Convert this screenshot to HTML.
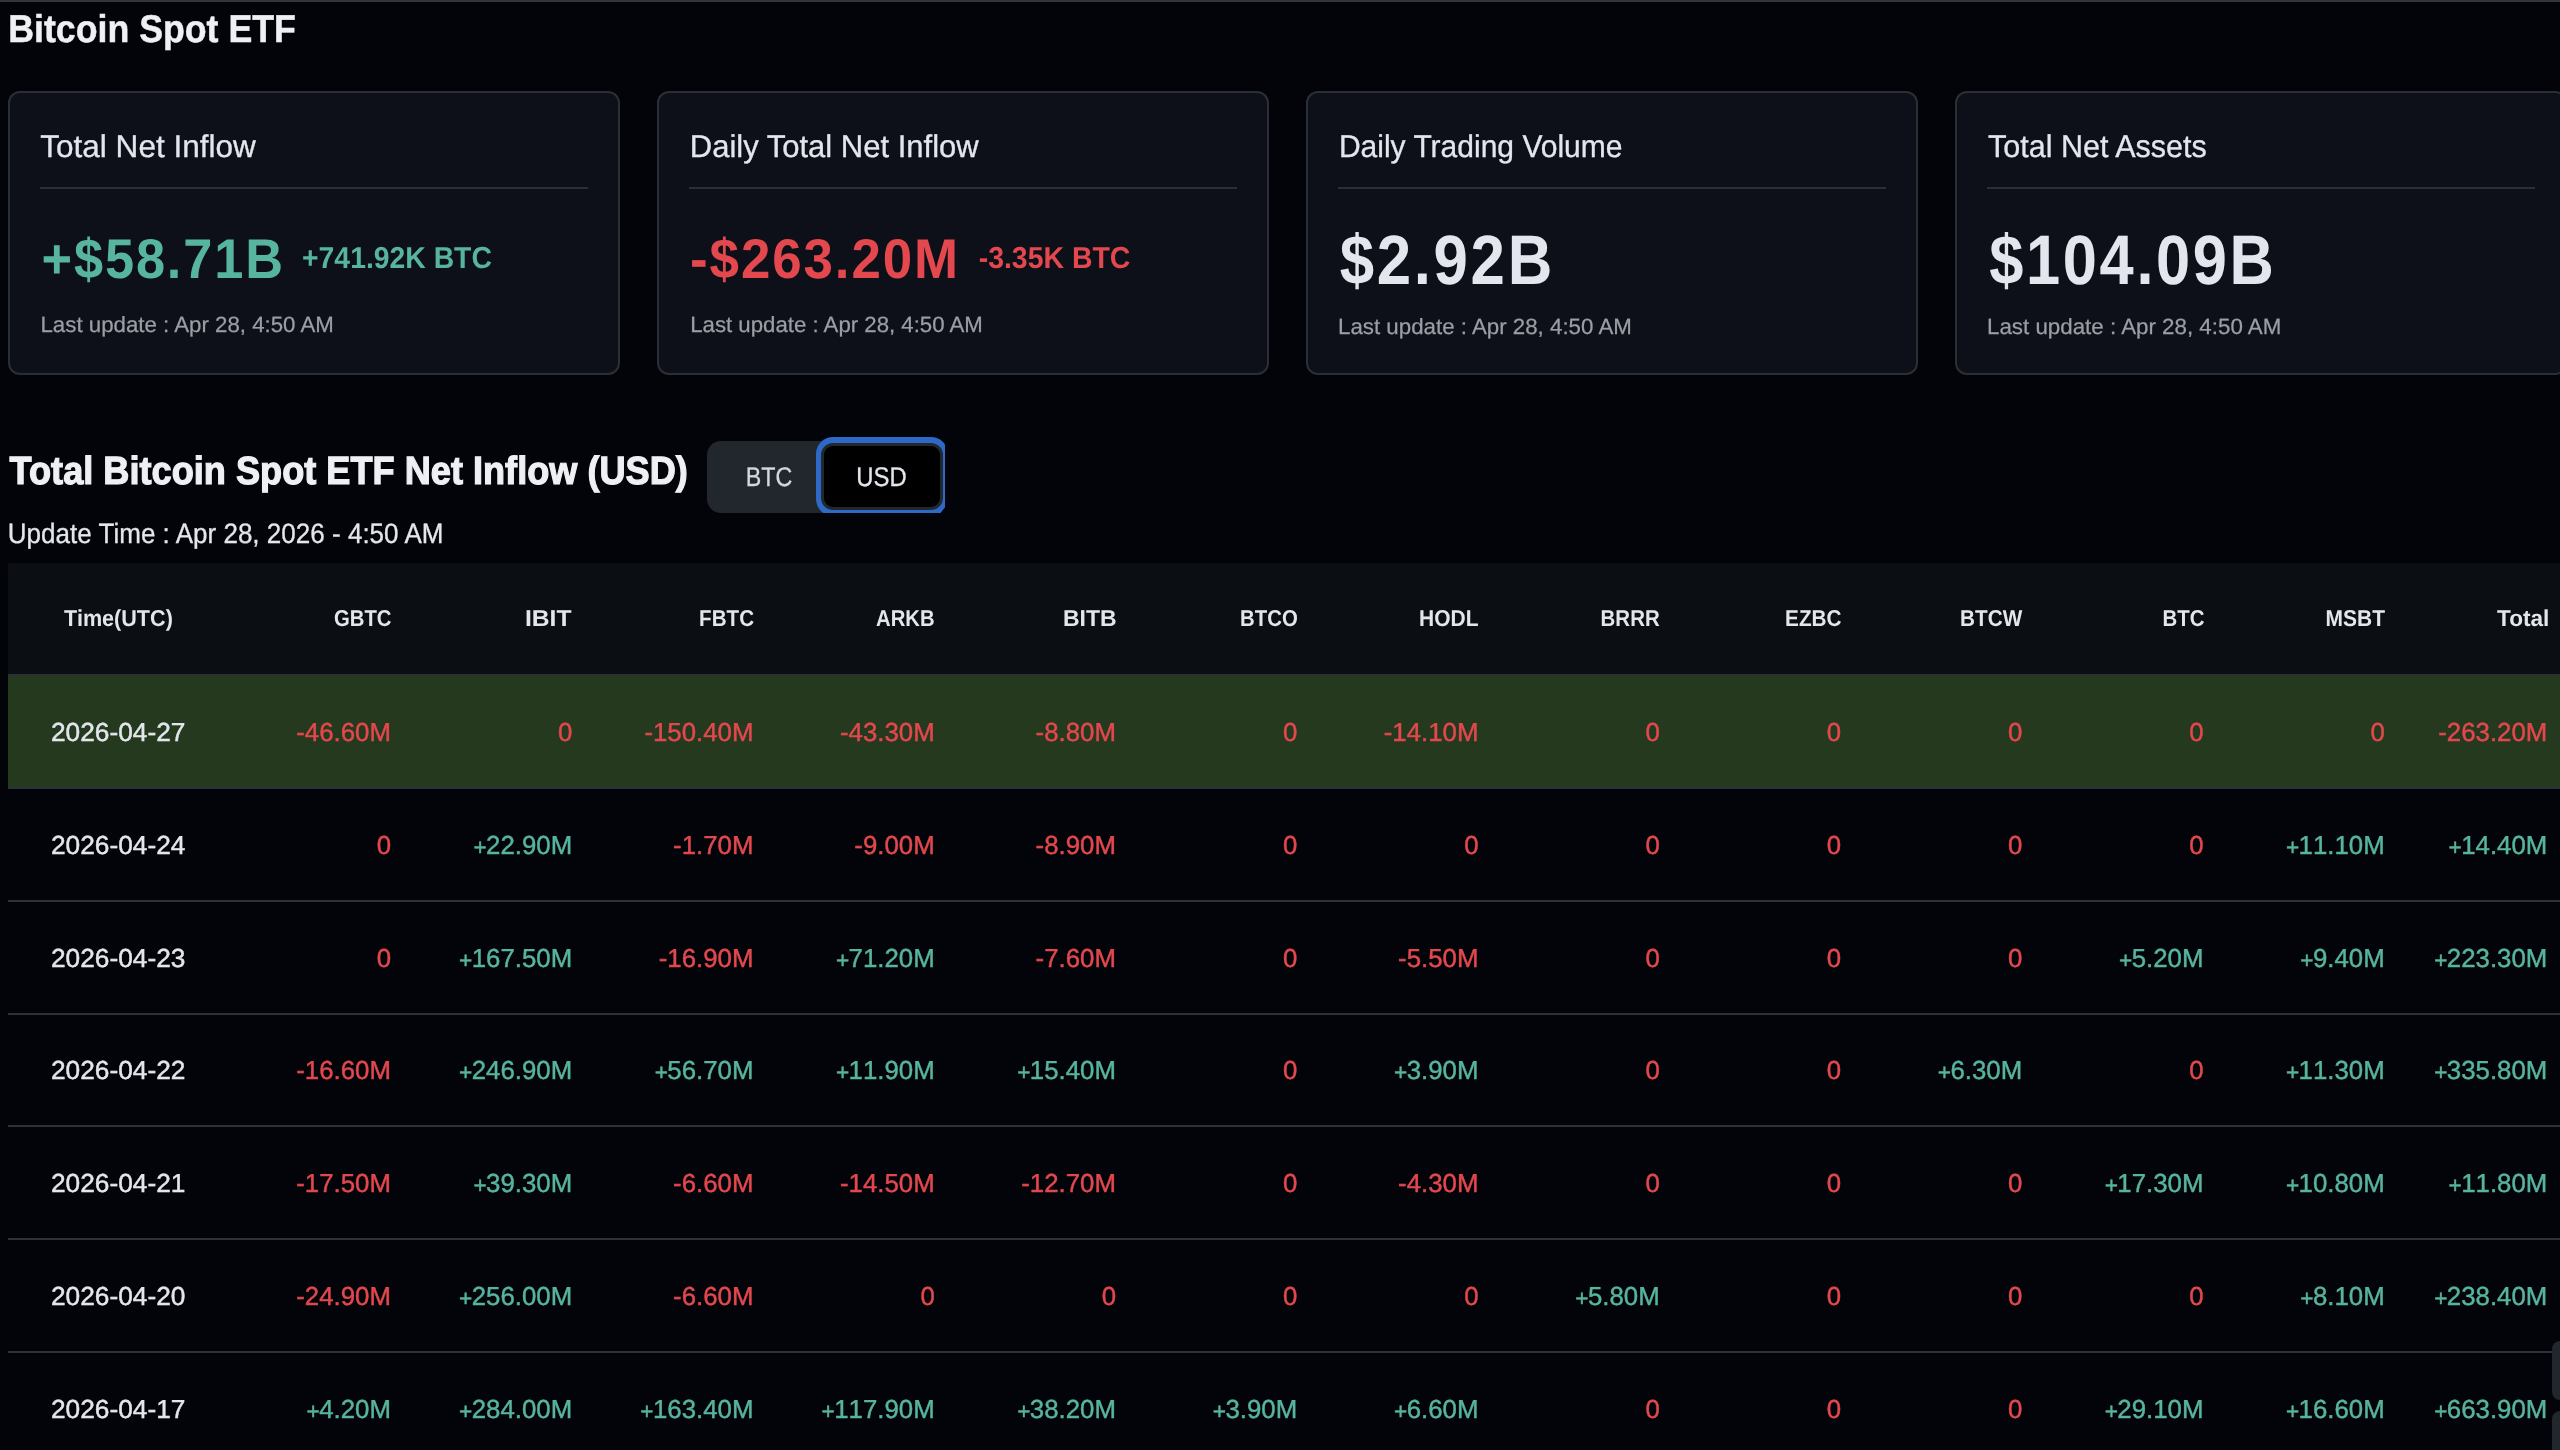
<!DOCTYPE html>
<html lang="en"><head><meta charset="utf-8"><title>Bitcoin Spot ETF</title>
<style>
html,body{margin:0;padding:0;background:#03040a;}
body{width:2560px;height:1450px;position:relative;overflow:hidden;font-family:"Liberation Sans", sans-serif;}
#page{position:absolute;left:0;top:0;width:2560px;height:1450px;overflow:hidden;will-change:transform;}
.b{position:absolute;box-sizing:border-box;}
.card{width:611.6px;height:284.2px;border:2px solid #2a2f36;border-radius:12px;background:#0d1018;}
.t i{font-style:normal;font-size:0.88em;letter-spacing:-0.54px;position:relative;top:1px}
.t{position:absolute;left:0;top:0;white-space:nowrap;line-height:1;transform-origin:0 0;font-family:"Liberation Sans", sans-serif;text-rendering:geometricPrecision;}
.n{font-kerning:none;}
</style></head><body><div id="page">
<div class="b" style="left:0;top:0;width:2560px;height:1.75px;background:#30343b"></div>
<div class="b card" style="left:8.3px;top:90.9px"></div>
<div class="b" style="left:40px;top:187px;width:548px;height:2px;background:#2a2f36"></div>
<div class="b card" style="left:657.3px;top:90.9px"></div>
<div class="b" style="left:689px;top:187px;width:548px;height:2px;background:#2a2f36"></div>
<div class="b card" style="left:1306.3px;top:90.9px"></div>
<div class="b" style="left:1338px;top:187px;width:548px;height:2px;background:#2a2f36"></div>
<div class="b card" style="left:1955.3px;top:90.9px"></div>
<div class="b" style="left:1987px;top:187px;width:548px;height:2px;background:#2a2f36"></div>
<div class="b" style="left:707px;top:441px;width:236px;height:71.9px;border-radius:14px;background:#22262d"></div>
<div class="b" style="left:815px;top:436px;width:130.2px;height:76.9px;overflow:hidden;clip-path:polygon(0 0,100% 0,100% calc(100% - 6px),calc(100% - 4.5px) 100%,0 100%)"><div style="position:absolute;left:0.6px;top:0.9px;width:132.5px;height:78.7px;border-radius:17px;background:#2f69c7"></div><div style="position:absolute;left:6.25px;top:6.9px;width:121.25px;height:66.9px;border-radius:12px;background:#000;border:3px solid #23272e;box-sizing:border-box"></div></div>
<div class="b" style="left:8.3px;top:563px;width:2552px;height:111px;background:#0b0e12"></div>
<div class="b" style="left:8.3px;top:673.75px;width:2552px;height:1.75px;background:#2b3138"></div>
<div class="b" style="left:8.3px;top:675.5px;width:2552px;height:111.5px;background:#24391d"></div>
<div class="b" style="left:8.3px;top:787.0px;width:2552px;height:2px;background:#2d3239"></div>
<div class="b" style="left:8.3px;top:899.75px;width:2552px;height:2px;background:#2d3239"></div>
<div class="b" style="left:8.3px;top:1012.5px;width:2552px;height:2px;background:#2d3239"></div>
<div class="b" style="left:8.3px;top:1125.25px;width:2552px;height:2px;background:#2d3239"></div>
<div class="b" style="left:8.3px;top:1238.0px;width:2552px;height:2px;background:#2d3239"></div>
<div class="b" style="left:8.3px;top:1350.75px;width:2552px;height:2px;background:#2d3239"></div>
<div class="b" style="left:2552px;top:1341px;width:20px;height:59px;border-radius:8px;background:#22262d"></div>
<div class="b" style="left:2552px;top:1411px;width:20px;height:59px;border-radius:8px;background:#22262d"></div>
<span class="t" style="font-size:38.75px;font-weight:700;color:#eef0f4;-webkit-text-stroke:0.5px #eef0f4;transform:translate(8.16px,11.145px) scaleX(0.9219)">Bitcoin Spot ETF</span>
<span class="t" style="font-size:31.5px;font-weight:400;color:#e3e7ed;-webkit-text-stroke:0.3px #e3e7ed;transform:translate(40.30px,131.270px) scaleX(1.0004)">Total Net Inflow</span>
<span class="t" style="font-size:31.5px;font-weight:400;color:#e3e7ed;-webkit-text-stroke:0.3px #e3e7ed;transform:translate(689.73px,131.270px) scaleX(0.9846)">Daily Total Net Inflow</span>
<span class="t" style="font-size:31.5px;font-weight:400;color:#e3e7ed;-webkit-text-stroke:0.3px #e3e7ed;transform:translate(1338.89px,131.270px) scaleX(0.9528)">Daily Trading Volume</span>
<span class="t" style="font-size:31.5px;font-weight:400;color:#e3e7ed;-webkit-text-stroke:0.3px #e3e7ed;transform:translate(1988.00px,131.270px) scaleX(0.9684)">Total Net Assets</span>
<span class="t" style="font-size:56px;font-weight:700;color:#57b49f;letter-spacing:2px;transform:translate(41.53px,230.520px) scaleX(0.9343)">+$58.71B</span>
<span class="t" style="font-size:30.3px;font-weight:700;color:#57b49f;transform:translate(302.06px,244.370px) scaleX(0.9354)">+741.92K BTC</span>
<span class="t" style="font-size:56px;font-weight:700;color:#e2484d;letter-spacing:2px;transform:translate(690.11px,230.520px) scaleX(0.9443)">-$263.20M</span>
<span class="t" style="font-size:30.3px;font-weight:700;color:#e2484d;transform:translate(978.66px,244.370px) scaleX(0.9388)">-3.35K BTC</span>
<span class="t" style="font-size:70px;font-weight:700;color:#e3e7ed;letter-spacing:3px;transform:translate(1339.80px,225.020px) scaleX(0.8825)">$2.92B</span>
<span class="t" style="font-size:70px;font-weight:700;color:#e3e7ed;letter-spacing:3px;transform:translate(1989.30px,225.020px) scaleX(0.8769)">$104.09B</span>
<span class="t" style="font-size:22px;font-weight:400;color:#9b9ea4;-webkit-text-stroke:0.25px #9b9ea4;transform:translate(40.49px,313.520px) scaleX(1.0120)">Last update : Apr 28, 4:50 AM</span>
<span class="t" style="font-size:22px;font-weight:400;color:#9b9ea4;-webkit-text-stroke:0.25px #9b9ea4;transform:translate(690.19px,313.520px) scaleX(1.0096)">Last update : Apr 28, 4:50 AM</span>
<span class="t" style="font-size:22px;font-weight:400;color:#9b9ea4;-webkit-text-stroke:0.25px #9b9ea4;transform:translate(1337.99px,315.520px) scaleX(1.0137)">Last update : Apr 28, 4:50 AM</span>
<span class="t" style="font-size:22px;font-weight:400;color:#9b9ea4;-webkit-text-stroke:0.25px #9b9ea4;transform:translate(1986.98px,315.520px) scaleX(1.0155)">Last update : Apr 28, 4:50 AM</span>
<span class="t" style="font-size:39.3px;font-weight:700;color:#eef0f4;-webkit-text-stroke:1.2px #eef0f4;transform:translate(9.60px,452.370px) scaleX(0.9202)">Total Bitcoin Spot ETF Net Inflow (USD)</span>
<span class="t" style="font-size:28px;font-weight:400;color:#e3e7ed;-webkit-text-stroke:0.3px #e3e7ed;transform:translate(7.74px,519.520px) scaleX(0.9300)">Update Time : Apr 28, 2026 - 4:50 AM</span>
<span class="t" style="font-size:27px;font-weight:400;color:#d5d9df;-webkit-text-stroke:0.3px #d5d9df;transform:translate(745.78px,463.520px) scaleX(0.8621)">BTC</span>
<span class="t" style="font-size:27px;font-weight:400;color:#e3e7ed;-webkit-text-stroke:0.3px #e3e7ed;transform:translate(856.33px,463.520px) scaleX(0.8832)">USD</span>
<span class="t" style="font-size:23px;font-weight:700;color:#e3e7ed;transform:translate(64.10px,606.520px) scaleX(0.9384)">Time(UTC)</span>
<span class="t" style="font-size:23px;font-weight:700;color:#e3e7ed;transform:translate(334.00px,606.520px) scaleX(0.8829)">GBTC</span>
<span class="t" style="font-size:23px;font-weight:700;color:#e3e7ed;transform:translate(524.93px,606.520px) scaleX(1.0730)">IBIT</span>
<span class="t" style="font-size:23px;font-weight:700;color:#e3e7ed;transform:translate(699.10px,606.520px) scaleX(0.8959)">FBTC</span>
<span class="t" style="font-size:23px;font-weight:700;color:#e3e7ed;transform:translate(876.00px,606.520px) scaleX(0.8809)">ARKB</span>
<span class="t" style="font-size:23px;font-weight:700;color:#e3e7ed;transform:translate(1063.00px,606.520px) scaleX(0.9988)">BITB</span>
<span class="t" style="font-size:23px;font-weight:700;color:#e3e7ed;transform:translate(1240.12px,606.520px) scaleX(0.8849)">BTCO</span>
<span class="t" style="font-size:23px;font-weight:700;color:#e3e7ed;transform:translate(1419.09px,606.520px) scaleX(0.9123)">HODL</span>
<span class="t" style="font-size:23px;font-weight:700;color:#e3e7ed;transform:translate(1600.61px,606.520px) scaleX(0.8885)">BRRR</span>
<span class="t" style="font-size:23px;font-weight:700;color:#e3e7ed;transform:translate(1785.10px,606.520px) scaleX(0.9014)">EZBC</span>
<span class="t" style="font-size:23px;font-weight:700;color:#e3e7ed;transform:translate(1960.10px,606.520px) scaleX(0.9008)">BTCW</span>
<span class="t" style="font-size:23px;font-weight:700;color:#e3e7ed;transform:translate(2162.61px,606.520px) scaleX(0.8868)">BTC</span>
<span class="t" style="font-size:23px;font-weight:700;color:#e3e7ed;transform:translate(2325.59px,606.520px) scaleX(0.9123)">MSBT</span>
<span class="t" style="font-size:23px;font-weight:700;color:#e3e7ed;transform:translate(2497.00px,606.520px) scaleX(0.9837)">Total</span>
<span class="t" style="font-size:26px;font-weight:400;color:#e3e7ed;-webkit-text-stroke:0.45px #e3e7ed;transform:translate(50.99px,719.020px) scaleX(1.0111)">2026-04-27</span>
<span class="t" style="font-size:26px;font-weight:400;color:#e3e7ed;-webkit-text-stroke:0.45px #e3e7ed;transform:translate(50.99px,832.020px) scaleX(1.0111)">2026-04-24</span>
<span class="t" style="font-size:26px;font-weight:400;color:#e3e7ed;-webkit-text-stroke:0.45px #e3e7ed;transform:translate(50.99px,945.020px) scaleX(1.0111)">2026-04-23</span>
<span class="t" style="font-size:26px;font-weight:400;color:#e3e7ed;-webkit-text-stroke:0.45px #e3e7ed;transform:translate(50.99px,1057.020px) scaleX(1.0111)">2026-04-22</span>
<span class="t" style="font-size:26px;font-weight:400;color:#e3e7ed;-webkit-text-stroke:0.45px #e3e7ed;transform:translate(50.99px,1170.020px) scaleX(1.0111)">2026-04-21</span>
<span class="t" style="font-size:26px;font-weight:400;color:#e3e7ed;-webkit-text-stroke:0.45px #e3e7ed;transform:translate(50.99px,1283.020px) scaleX(1.0111)">2026-04-20</span>
<span class="t" style="font-size:26px;font-weight:400;color:#e3e7ed;-webkit-text-stroke:0.45px #e3e7ed;transform:translate(50.99px,1396.020px) scaleX(1.0111)">2026-04-17</span>
<span class="t n" style="font-size:26px;font-weight:400;color:#e2484d;-webkit-text-stroke:0.45px #e2484d;transform:translate(296.27px,719.020px) scaleX(0.9920)">-46.60M</span>
<span class="t n" style="font-size:26px;font-weight:400;color:#e2484d;-webkit-text-stroke:0.45px #e2484d;transform:translate(557.90px,719.020px) scaleX(0.9920)">0</span>
<span class="t n" style="font-size:26px;font-weight:400;color:#e2484d;-webkit-text-stroke:0.45px #e2484d;transform:translate(644.43px,719.020px) scaleX(0.9920)">-150.40M</span>
<span class="t n" style="font-size:26px;font-weight:400;color:#e2484d;-webkit-text-stroke:0.45px #e2484d;transform:translate(840.02px,719.020px) scaleX(0.9920)">-43.30M</span>
<span class="t n" style="font-size:26px;font-weight:400;color:#e2484d;-webkit-text-stroke:0.45px #e2484d;transform:translate(1035.62px,719.020px) scaleX(0.9920)">-8.80M</span>
<span class="t n" style="font-size:26px;font-weight:400;color:#e2484d;-webkit-text-stroke:0.45px #e2484d;transform:translate(1282.90px,719.020px) scaleX(0.9920)">0</span>
<span class="t n" style="font-size:26px;font-weight:400;color:#e2484d;-webkit-text-stroke:0.45px #e2484d;transform:translate(1383.77px,719.020px) scaleX(0.9920)">-14.10M</span>
<span class="t n" style="font-size:26px;font-weight:400;color:#e2484d;-webkit-text-stroke:0.45px #e2484d;transform:translate(1645.40px,719.020px) scaleX(0.9920)">0</span>
<span class="t n" style="font-size:26px;font-weight:400;color:#e2484d;-webkit-text-stroke:0.45px #e2484d;transform:translate(1826.65px,719.020px) scaleX(0.9920)">0</span>
<span class="t n" style="font-size:26px;font-weight:400;color:#e2484d;-webkit-text-stroke:0.45px #e2484d;transform:translate(2007.90px,719.020px) scaleX(0.9920)">0</span>
<span class="t n" style="font-size:26px;font-weight:400;color:#e2484d;-webkit-text-stroke:0.45px #e2484d;transform:translate(2189.15px,719.020px) scaleX(0.9920)">0</span>
<span class="t n" style="font-size:26px;font-weight:400;color:#e2484d;-webkit-text-stroke:0.45px #e2484d;transform:translate(2370.40px,719.020px) scaleX(0.9920)">0</span>
<span class="t n" style="font-size:26px;font-weight:400;color:#e2484d;-webkit-text-stroke:0.45px #e2484d;transform:translate(2438.28px,719.020px) scaleX(0.9920)">-263.20M</span>
<span class="t n" style="font-size:26px;font-weight:400;color:#e2484d;-webkit-text-stroke:0.45px #e2484d;transform:translate(376.65px,832.020px) scaleX(0.9920)">0</span>
<span class="t n" style="font-size:26px;font-weight:400;color:#57b49f;-webkit-text-stroke:0.45px #57b49f;transform:translate(473.38px,832.020px) scaleX(0.9920)"><i>+</i>22.90M</span>
<span class="t n" style="font-size:26px;font-weight:400;color:#e2484d;-webkit-text-stroke:0.45px #e2484d;transform:translate(673.12px,832.020px) scaleX(0.9920)">-1.70M</span>
<span class="t n" style="font-size:26px;font-weight:400;color:#e2484d;-webkit-text-stroke:0.45px #e2484d;transform:translate(854.37px,832.020px) scaleX(0.9920)">-9.00M</span>
<span class="t n" style="font-size:26px;font-weight:400;color:#e2484d;-webkit-text-stroke:0.45px #e2484d;transform:translate(1035.62px,832.020px) scaleX(0.9920)">-8.90M</span>
<span class="t n" style="font-size:26px;font-weight:400;color:#e2484d;-webkit-text-stroke:0.45px #e2484d;transform:translate(1282.90px,832.020px) scaleX(0.9920)">0</span>
<span class="t n" style="font-size:26px;font-weight:400;color:#e2484d;-webkit-text-stroke:0.45px #e2484d;transform:translate(1464.15px,832.020px) scaleX(0.9920)">0</span>
<span class="t n" style="font-size:26px;font-weight:400;color:#e2484d;-webkit-text-stroke:0.45px #e2484d;transform:translate(1645.40px,832.020px) scaleX(0.9920)">0</span>
<span class="t n" style="font-size:26px;font-weight:400;color:#e2484d;-webkit-text-stroke:0.45px #e2484d;transform:translate(1826.65px,832.020px) scaleX(0.9920)">0</span>
<span class="t n" style="font-size:26px;font-weight:400;color:#e2484d;-webkit-text-stroke:0.45px #e2484d;transform:translate(2007.90px,832.020px) scaleX(0.9920)">0</span>
<span class="t n" style="font-size:26px;font-weight:400;color:#e2484d;-webkit-text-stroke:0.45px #e2484d;transform:translate(2189.15px,832.020px) scaleX(0.9920)">0</span>
<span class="t n" style="font-size:26px;font-weight:400;color:#57b49f;-webkit-text-stroke:0.45px #57b49f;transform:translate(2285.88px,832.020px) scaleX(0.9920)"><i>+</i>11.10M</span>
<span class="t n" style="font-size:26px;font-weight:400;color:#57b49f;-webkit-text-stroke:0.45px #57b49f;transform:translate(2448.48px,832.020px) scaleX(0.9920)"><i>+</i>14.40M</span>
<span class="t n" style="font-size:26px;font-weight:400;color:#e2484d;-webkit-text-stroke:0.45px #e2484d;transform:translate(376.65px,945.020px) scaleX(0.9920)">0</span>
<span class="t n" style="font-size:26px;font-weight:400;color:#57b49f;-webkit-text-stroke:0.45px #57b49f;transform:translate(459.04px,945.020px) scaleX(0.9920)"><i>+</i>167.50M</span>
<span class="t n" style="font-size:26px;font-weight:400;color:#e2484d;-webkit-text-stroke:0.45px #e2484d;transform:translate(658.77px,945.020px) scaleX(0.9920)">-16.90M</span>
<span class="t n" style="font-size:26px;font-weight:400;color:#57b49f;-webkit-text-stroke:0.45px #57b49f;transform:translate(835.88px,945.020px) scaleX(0.9920)"><i>+</i>71.20M</span>
<span class="t n" style="font-size:26px;font-weight:400;color:#e2484d;-webkit-text-stroke:0.45px #e2484d;transform:translate(1035.62px,945.020px) scaleX(0.9920)">-7.60M</span>
<span class="t n" style="font-size:26px;font-weight:400;color:#e2484d;-webkit-text-stroke:0.45px #e2484d;transform:translate(1282.90px,945.020px) scaleX(0.9920)">0</span>
<span class="t n" style="font-size:26px;font-weight:400;color:#e2484d;-webkit-text-stroke:0.45px #e2484d;transform:translate(1398.12px,945.020px) scaleX(0.9920)">-5.50M</span>
<span class="t n" style="font-size:26px;font-weight:400;color:#e2484d;-webkit-text-stroke:0.45px #e2484d;transform:translate(1645.40px,945.020px) scaleX(0.9920)">0</span>
<span class="t n" style="font-size:26px;font-weight:400;color:#e2484d;-webkit-text-stroke:0.45px #e2484d;transform:translate(1826.65px,945.020px) scaleX(0.9920)">0</span>
<span class="t n" style="font-size:26px;font-weight:400;color:#e2484d;-webkit-text-stroke:0.45px #e2484d;transform:translate(2007.90px,945.020px) scaleX(0.9920)">0</span>
<span class="t n" style="font-size:26px;font-weight:400;color:#57b49f;-webkit-text-stroke:0.45px #57b49f;transform:translate(2118.98px,945.020px) scaleX(0.9920)"><i>+</i>5.20M</span>
<span class="t n" style="font-size:26px;font-weight:400;color:#57b49f;-webkit-text-stroke:0.45px #57b49f;transform:translate(2300.23px,945.020px) scaleX(0.9920)"><i>+</i>9.40M</span>
<span class="t n" style="font-size:26px;font-weight:400;color:#57b49f;-webkit-text-stroke:0.45px #57b49f;transform:translate(2434.14px,945.020px) scaleX(0.9920)"><i>+</i>223.30M</span>
<span class="t n" style="font-size:26px;font-weight:400;color:#e2484d;-webkit-text-stroke:0.45px #e2484d;transform:translate(296.27px,1057.020px) scaleX(0.9920)">-16.60M</span>
<span class="t n" style="font-size:26px;font-weight:400;color:#57b49f;-webkit-text-stroke:0.45px #57b49f;transform:translate(459.04px,1057.020px) scaleX(0.9920)"><i>+</i>246.90M</span>
<span class="t n" style="font-size:26px;font-weight:400;color:#57b49f;-webkit-text-stroke:0.45px #57b49f;transform:translate(654.63px,1057.020px) scaleX(0.9920)"><i>+</i>56.70M</span>
<span class="t n" style="font-size:26px;font-weight:400;color:#57b49f;-webkit-text-stroke:0.45px #57b49f;transform:translate(835.88px,1057.020px) scaleX(0.9920)"><i>+</i>11.90M</span>
<span class="t n" style="font-size:26px;font-weight:400;color:#57b49f;-webkit-text-stroke:0.45px #57b49f;transform:translate(1017.13px,1057.020px) scaleX(0.9920)"><i>+</i>15.40M</span>
<span class="t n" style="font-size:26px;font-weight:400;color:#e2484d;-webkit-text-stroke:0.45px #e2484d;transform:translate(1282.90px,1057.020px) scaleX(0.9920)">0</span>
<span class="t n" style="font-size:26px;font-weight:400;color:#57b49f;-webkit-text-stroke:0.45px #57b49f;transform:translate(1393.98px,1057.020px) scaleX(0.9920)"><i>+</i>3.90M</span>
<span class="t n" style="font-size:26px;font-weight:400;color:#e2484d;-webkit-text-stroke:0.45px #e2484d;transform:translate(1645.40px,1057.020px) scaleX(0.9920)">0</span>
<span class="t n" style="font-size:26px;font-weight:400;color:#e2484d;-webkit-text-stroke:0.45px #e2484d;transform:translate(1826.65px,1057.020px) scaleX(0.9920)">0</span>
<span class="t n" style="font-size:26px;font-weight:400;color:#57b49f;-webkit-text-stroke:0.45px #57b49f;transform:translate(1937.73px,1057.020px) scaleX(0.9920)"><i>+</i>6.30M</span>
<span class="t n" style="font-size:26px;font-weight:400;color:#e2484d;-webkit-text-stroke:0.45px #e2484d;transform:translate(2189.15px,1057.020px) scaleX(0.9920)">0</span>
<span class="t n" style="font-size:26px;font-weight:400;color:#57b49f;-webkit-text-stroke:0.45px #57b49f;transform:translate(2285.88px,1057.020px) scaleX(0.9920)"><i>+</i>11.30M</span>
<span class="t n" style="font-size:26px;font-weight:400;color:#57b49f;-webkit-text-stroke:0.45px #57b49f;transform:translate(2434.14px,1057.020px) scaleX(0.9920)"><i>+</i>335.80M</span>
<span class="t n" style="font-size:26px;font-weight:400;color:#e2484d;-webkit-text-stroke:0.45px #e2484d;transform:translate(296.27px,1170.020px) scaleX(0.9920)">-17.50M</span>
<span class="t n" style="font-size:26px;font-weight:400;color:#57b49f;-webkit-text-stroke:0.45px #57b49f;transform:translate(473.38px,1170.020px) scaleX(0.9920)"><i>+</i>39.30M</span>
<span class="t n" style="font-size:26px;font-weight:400;color:#e2484d;-webkit-text-stroke:0.45px #e2484d;transform:translate(673.12px,1170.020px) scaleX(0.9920)">-6.60M</span>
<span class="t n" style="font-size:26px;font-weight:400;color:#e2484d;-webkit-text-stroke:0.45px #e2484d;transform:translate(840.02px,1170.020px) scaleX(0.9920)">-14.50M</span>
<span class="t n" style="font-size:26px;font-weight:400;color:#e2484d;-webkit-text-stroke:0.45px #e2484d;transform:translate(1021.27px,1170.020px) scaleX(0.9920)">-12.70M</span>
<span class="t n" style="font-size:26px;font-weight:400;color:#e2484d;-webkit-text-stroke:0.45px #e2484d;transform:translate(1282.90px,1170.020px) scaleX(0.9920)">0</span>
<span class="t n" style="font-size:26px;font-weight:400;color:#e2484d;-webkit-text-stroke:0.45px #e2484d;transform:translate(1398.12px,1170.020px) scaleX(0.9920)">-4.30M</span>
<span class="t n" style="font-size:26px;font-weight:400;color:#e2484d;-webkit-text-stroke:0.45px #e2484d;transform:translate(1645.40px,1170.020px) scaleX(0.9920)">0</span>
<span class="t n" style="font-size:26px;font-weight:400;color:#e2484d;-webkit-text-stroke:0.45px #e2484d;transform:translate(1826.65px,1170.020px) scaleX(0.9920)">0</span>
<span class="t n" style="font-size:26px;font-weight:400;color:#e2484d;-webkit-text-stroke:0.45px #e2484d;transform:translate(2007.90px,1170.020px) scaleX(0.9920)">0</span>
<span class="t n" style="font-size:26px;font-weight:400;color:#57b49f;-webkit-text-stroke:0.45px #57b49f;transform:translate(2104.63px,1170.020px) scaleX(0.9920)"><i>+</i>17.30M</span>
<span class="t n" style="font-size:26px;font-weight:400;color:#57b49f;-webkit-text-stroke:0.45px #57b49f;transform:translate(2285.88px,1170.020px) scaleX(0.9920)"><i>+</i>10.80M</span>
<span class="t n" style="font-size:26px;font-weight:400;color:#57b49f;-webkit-text-stroke:0.45px #57b49f;transform:translate(2448.48px,1170.020px) scaleX(0.9920)"><i>+</i>11.80M</span>
<span class="t n" style="font-size:26px;font-weight:400;color:#e2484d;-webkit-text-stroke:0.45px #e2484d;transform:translate(296.27px,1283.020px) scaleX(0.9920)">-24.90M</span>
<span class="t n" style="font-size:26px;font-weight:400;color:#57b49f;-webkit-text-stroke:0.45px #57b49f;transform:translate(459.04px,1283.020px) scaleX(0.9920)"><i>+</i>256.00M</span>
<span class="t n" style="font-size:26px;font-weight:400;color:#e2484d;-webkit-text-stroke:0.45px #e2484d;transform:translate(673.12px,1283.020px) scaleX(0.9920)">-6.60M</span>
<span class="t n" style="font-size:26px;font-weight:400;color:#e2484d;-webkit-text-stroke:0.45px #e2484d;transform:translate(920.40px,1283.020px) scaleX(0.9920)">0</span>
<span class="t n" style="font-size:26px;font-weight:400;color:#e2484d;-webkit-text-stroke:0.45px #e2484d;transform:translate(1101.65px,1283.020px) scaleX(0.9920)">0</span>
<span class="t n" style="font-size:26px;font-weight:400;color:#e2484d;-webkit-text-stroke:0.45px #e2484d;transform:translate(1282.90px,1283.020px) scaleX(0.9920)">0</span>
<span class="t n" style="font-size:26px;font-weight:400;color:#e2484d;-webkit-text-stroke:0.45px #e2484d;transform:translate(1464.15px,1283.020px) scaleX(0.9920)">0</span>
<span class="t n" style="font-size:26px;font-weight:400;color:#57b49f;-webkit-text-stroke:0.45px #57b49f;transform:translate(1575.23px,1283.020px) scaleX(0.9920)"><i>+</i>5.80M</span>
<span class="t n" style="font-size:26px;font-weight:400;color:#e2484d;-webkit-text-stroke:0.45px #e2484d;transform:translate(1826.65px,1283.020px) scaleX(0.9920)">0</span>
<span class="t n" style="font-size:26px;font-weight:400;color:#e2484d;-webkit-text-stroke:0.45px #e2484d;transform:translate(2007.90px,1283.020px) scaleX(0.9920)">0</span>
<span class="t n" style="font-size:26px;font-weight:400;color:#e2484d;-webkit-text-stroke:0.45px #e2484d;transform:translate(2189.15px,1283.020px) scaleX(0.9920)">0</span>
<span class="t n" style="font-size:26px;font-weight:400;color:#57b49f;-webkit-text-stroke:0.45px #57b49f;transform:translate(2300.23px,1283.020px) scaleX(0.9920)"><i>+</i>8.10M</span>
<span class="t n" style="font-size:26px;font-weight:400;color:#57b49f;-webkit-text-stroke:0.45px #57b49f;transform:translate(2434.14px,1283.020px) scaleX(0.9920)"><i>+</i>238.40M</span>
<span class="t n" style="font-size:26px;font-weight:400;color:#57b49f;-webkit-text-stroke:0.45px #57b49f;transform:translate(306.48px,1396.020px) scaleX(0.9920)"><i>+</i>4.20M</span>
<span class="t n" style="font-size:26px;font-weight:400;color:#57b49f;-webkit-text-stroke:0.45px #57b49f;transform:translate(459.04px,1396.020px) scaleX(0.9920)"><i>+</i>284.00M</span>
<span class="t n" style="font-size:26px;font-weight:400;color:#57b49f;-webkit-text-stroke:0.45px #57b49f;transform:translate(640.29px,1396.020px) scaleX(0.9920)"><i>+</i>163.40M</span>
<span class="t n" style="font-size:26px;font-weight:400;color:#57b49f;-webkit-text-stroke:0.45px #57b49f;transform:translate(821.54px,1396.020px) scaleX(0.9920)"><i>+</i>117.90M</span>
<span class="t n" style="font-size:26px;font-weight:400;color:#57b49f;-webkit-text-stroke:0.45px #57b49f;transform:translate(1017.13px,1396.020px) scaleX(0.9920)"><i>+</i>38.20M</span>
<span class="t n" style="font-size:26px;font-weight:400;color:#57b49f;-webkit-text-stroke:0.45px #57b49f;transform:translate(1212.73px,1396.020px) scaleX(0.9920)"><i>+</i>3.90M</span>
<span class="t n" style="font-size:26px;font-weight:400;color:#57b49f;-webkit-text-stroke:0.45px #57b49f;transform:translate(1393.98px,1396.020px) scaleX(0.9920)"><i>+</i>6.60M</span>
<span class="t n" style="font-size:26px;font-weight:400;color:#e2484d;-webkit-text-stroke:0.45px #e2484d;transform:translate(1645.40px,1396.020px) scaleX(0.9920)">0</span>
<span class="t n" style="font-size:26px;font-weight:400;color:#e2484d;-webkit-text-stroke:0.45px #e2484d;transform:translate(1826.65px,1396.020px) scaleX(0.9920)">0</span>
<span class="t n" style="font-size:26px;font-weight:400;color:#e2484d;-webkit-text-stroke:0.45px #e2484d;transform:translate(2007.90px,1396.020px) scaleX(0.9920)">0</span>
<span class="t n" style="font-size:26px;font-weight:400;color:#57b49f;-webkit-text-stroke:0.45px #57b49f;transform:translate(2104.63px,1396.020px) scaleX(0.9920)"><i>+</i>29.10M</span>
<span class="t n" style="font-size:26px;font-weight:400;color:#57b49f;-webkit-text-stroke:0.45px #57b49f;transform:translate(2285.88px,1396.020px) scaleX(0.9920)"><i>+</i>16.60M</span>
<span class="t n" style="font-size:26px;font-weight:400;color:#57b49f;-webkit-text-stroke:0.45px #57b49f;transform:translate(2434.14px,1396.020px) scaleX(0.9920)"><i>+</i>663.90M</span>
</div></body></html>
